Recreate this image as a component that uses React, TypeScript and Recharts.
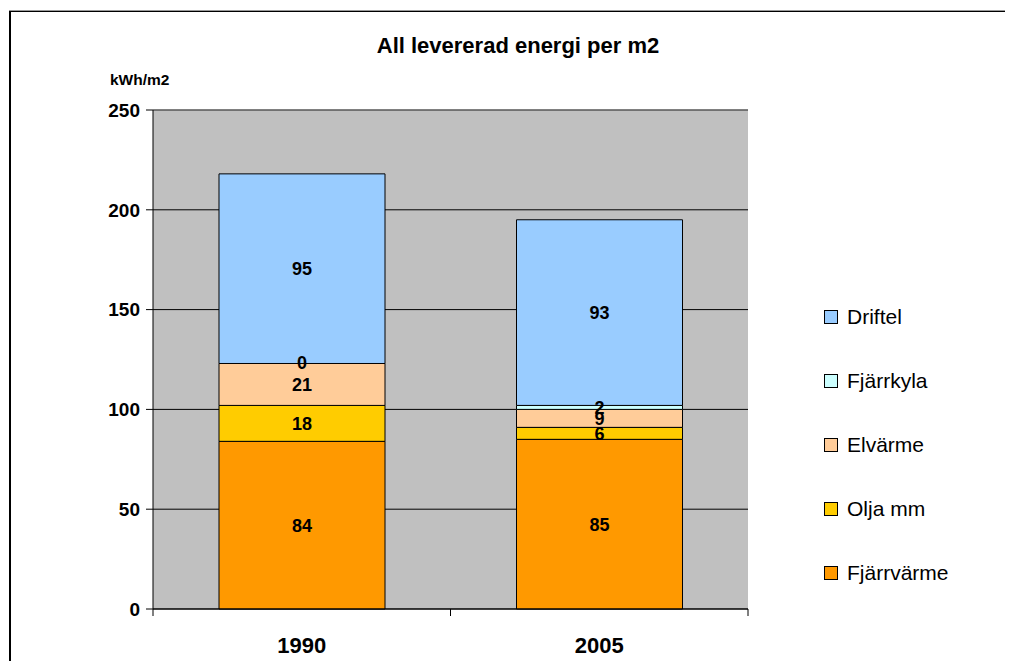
import React from "react";
import {
  Bar,
  BarChart,
  CartesianGrid,
  LabelList,
  ReferenceLine,
  XAxis,
  YAxis,
} from "recharts";

const years = ["1990", "2005"];
const fjarrvarme = [84, 85];
const oljaMm = [18, 6];
const elvarme = [21, 9];
const fjarrkyla = [0, 2];
const driftel = [95, 93];
const yTicks = [0, 50, 100, 150, 200, 250];

const series = [
  { key: "Fjärrvärme", values: fjarrvarme, color: "#FF9900" },
  { key: "Olja mm", values: oljaMm, color: "#FFCC00" },
  { key: "Elvärme", values: elvarme, color: "#FFCC99" },
  { key: "Fjärrkyla", values: fjarrkyla, color: "#CCFFFF" },
  { key: "Driftel", values: driftel, color: "#99CCFF" },
];

const data = years.map((year, i) => {
  const row: Record<string, string | number> = { year };
  for (const s of series) row[s.key] = s.values[i];
  return row;
});

const FONT = "'Liberation Sans', Arial, sans-serif";
const W = 1013;
const H = 669;
const PLOT_LEFT = 153;
const PLOT_RIGHT = 748;
const PLOT_TOP = 110;
const PLOT_BOTTOM = 609;
const BAND = (PLOT_RIGHT - PLOT_LEFT) / years.length;
const LABEL_SIZE = 18;

function YearTick(props: any) {
  const { x, y, payload, index } = props;
  const last = index === years.length - 1;
  return (
    <g>
      <line x1={x - BAND / 2} x2={x - BAND / 2} y1={y - 8} y2={y - 1} stroke="#000" />
      {last && (
        <line x1={x + BAND / 2} x2={x + BAND / 2} y1={y - 8} y2={y - 1} stroke="#000" />
      )}
      <text
        x={x}
        y={y + 36}
        textAnchor="middle"
        fontFamily={FONT}
        fontWeight={700}
        fontSize={22}
        fill="#000"
      >
        {payload.value}
      </text>
    </g>
  );
}

// zero-height segments get no rect, so their value is written on the top edge
// of the segment below
function zeroLabel(key: string) {
  return (props: any) => {
    const { x, y, width, index } = props;
    const v = data[index]?.[key];
    if (v !== 0) return null;
    return (
      <text
        x={x + width / 2}
        y={y}
        textAnchor="middle"
        dominantBaseline="central"
        fontFamily={FONT}
        fontWeight={700}
        fontSize={LABEL_SIZE}
        fill="#000"
      >
        {v}
      </text>
    );
  };
}

export default function App() {
  return (
    <div
      style={{
        position: "relative",
        margin: -8,
        width: W,
        height: H,
        overflow: "hidden",
        background: "#fff",
        fontFamily: FONT,
      }}
    >
      {/* table fragment above the chart */}
      <div style={{ position: "absolute", left: 0, top: 3, width: 772, height: 2, background: "#000" }} />
      <div style={{ position: "absolute", left: 386, top: 0, width: 1, height: 4, background: "#000" }} />
      <div style={{ position: "absolute", left: 579, top: 0, width: 1, height: 4, background: "#000" }} />
      <div style={{ position: "absolute", left: 770, top: 0, width: 2, height: 5, background: "#000" }} />
      {/* chart frame */}
      <div style={{ position: "absolute", left: 9, top: 10, right: 0, height: 1, background: "#999" }} />
      <div style={{ position: "absolute", left: 9, top: 11, right: 0, height: 1, background: "#000" }} />
      <div style={{ position: "absolute", left: 9, top: 11, width: 2, bottom: 0, background: "#000" }} />

      <div
        style={{
          position: "absolute",
          left: 0,
          top: 33,
          width: 1036,
          textAlign: "center",
          fontWeight: 700,
          fontSize: 22,
        }}
      >
        All levererad energi per m2
      </div>
      <div
        style={{
          position: "absolute",
          left: 110,
          top: 71,
          fontWeight: 700,
          fontSize: 15.5,
        }}
      >
        kWh/m2
      </div>

      <div
        style={{
          position: "absolute",
          left: 824,
          top: 285,
          fontSize: 21,
          color: "#000",
        }}
      >
        {[...series].reverse().map((s) => (
          <div
            key={s.key}
            style={{ display: "flex", alignItems: "center", height: 64 }}
          >
            <span
              style={{
                display: "inline-block",
                width: 12,
                height: 12,
                background: s.color,
                border: "1px solid #000",
                marginRight: 9,
              }}
            />
            {s.key}
          </div>
        ))}
      </div>

      <div style={{ position: "absolute", left: 0, top: 0 }}>
        <BarChart
          width={W}
          height={H}
          data={data}
          barSize={166}
          margin={{
            top: PLOT_TOP,
            right: W - PLOT_RIGHT,
            left: PLOT_LEFT - 60,
            bottom: 0,
          }}
        >
          <CartesianGrid
            vertical={false}
            stroke="#000"
            fill="#C0C0C0"
            fillOpacity={1}
          />
          <ReferenceLine y={250} stroke="#808080" />
          <XAxis
            dataKey="year"
            height={H - PLOT_BOTTOM}
            tickLine={false}
            axisLine={{ stroke: "#000" }}
            tick={<YearTick />}
            interval={0}
          />
          <YAxis
            width={60}
            domain={[0, 250]}
            ticks={yTicks}
            interval={0}
            tickSize={7}
            tickMargin={6}
            axisLine={{ stroke: "#000" }}
            tickLine={{ stroke: "#000" }}
            tick={{
              fontFamily: FONT,
              fontWeight: 700,
              fontSize: 19,
              fill: "#000",
            }}
          />
          <YAxis
            yAxisId="frame"
            orientation="right"
            width={0}
            tick={false}
            tickLine={false}
            axisLine={{ stroke: "#808080" }}
          />
          {series.map((s, i) => (
            <Bar
              key={s.key}
              dataKey={s.key}
              name={s.key}
              stackId="a"
              fill={s.color}
              stroke="#000"
              strokeWidth={1}
              isAnimationActive={false}
            >
              <LabelList
                dataKey={s.key}
                position="center"
                fill="#000"
                fontFamily={FONT}
                fontWeight={700}
                fontSize={LABEL_SIZE}
                formatter={(v: any) => (v === 0 ? "" : v)}
              />
              {series[i + 1] && (
                <LabelList
                  dataKey={s.key}
                  content={zeroLabel(series[i + 1].key)}
                />
              )}
            </Bar>
          ))}
        </BarChart>
      </div>
    </div>
  );
}
